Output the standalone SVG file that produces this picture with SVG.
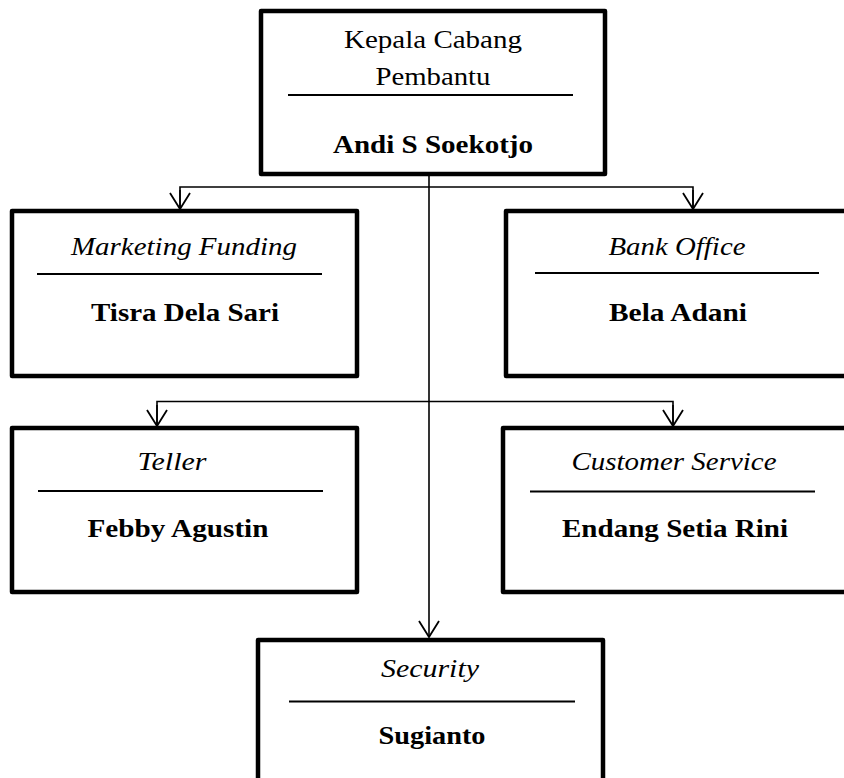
<svg xmlns="http://www.w3.org/2000/svg" width="844" height="778" viewBox="0 0 844 778">
<defs>
<style>
.box{fill:#fff;stroke:#000;stroke-width:4.5;stroke-linejoin:round}
.sep{stroke:#000;stroke-width:1.8}
.con{fill:none;stroke:#000;stroke-width:1.6}
.lbl{font-family:'Liberation Serif','Times New Roman',Times,serif;font-size:25px;fill:#000;text-anchor:middle}
.t{font-style:italic}
.n{font-weight:bold}
</style>
<marker id="arr" markerUnits="userSpaceOnUse" viewBox="-18 -12 20 24" refX="0" refY="0" markerWidth="20" markerHeight="24" orient="auto">
<path d="M-16,-10 L0,0 L-16,10" fill="none" stroke="#000" stroke-width="1.8"/>
</marker>
</defs>
<rect width="844" height="778" fill="#fff"/>
<g id="connectors">
<path class="con" d="M429,174 V637" marker-end="url(#arr)"/>
<path class="con" d="M180,209 V187 H693 V209" />
<path class="con" d="M180,190 V209" marker-end="url(#arr)"/>
<path class="con" d="M693,190 V209" marker-end="url(#arr)"/>
<path class="con" d="M157,426 V401.5 H673 V426"/>
<path class="con" d="M157,405 V426" marker-end="url(#arr)"/>
<path class="con" d="M673,405 V426" marker-end="url(#arr)"/>
</g>
<g id="kepala" class="lbl">
<rect class="box" x="261" y="11" width="344" height="163"/>
<text x="433" y="48" textLength="178" lengthAdjust="spacingAndGlyphs">Kepala Cabang</text>
<text x="433" y="85" textLength="115" lengthAdjust="spacingAndGlyphs">Pembantu</text>
<line class="sep" x1="288" y1="95" x2="573" y2="95"/>
<text class="n" x="433" y="153" textLength="200" lengthAdjust="spacingAndGlyphs">Andi S Soekotjo</text>
</g>
<g id="marketing" class="lbl">
<rect class="box" x="12" y="211" width="345" height="165"/>
<text class="t" x="184" y="255" textLength="226" lengthAdjust="spacingAndGlyphs">Marketing Funding</text>
<line class="sep" x1="37" y1="274" x2="322" y2="274"/>
<text class="n" x="185" y="321" textLength="188" lengthAdjust="spacingAndGlyphs">Tisra Dela Sari</text>
</g>
<g id="bankoffice" class="lbl">
<rect class="box" x="506" y="211" width="346" height="165"/>
<text class="t" x="677" y="255" textLength="137" lengthAdjust="spacingAndGlyphs">Bank Office</text>
<line class="sep" x1="535" y1="273" x2="819" y2="273"/>
<text class="n" x="678" y="321" textLength="138" lengthAdjust="spacingAndGlyphs">Bela Adani</text>
</g>
<g id="teller" class="lbl">
<rect class="box" x="12" y="428" width="345" height="164"/>
<text class="t" x="172" y="470" textLength="69" lengthAdjust="spacingAndGlyphs">Teller</text>
<line class="sep" x1="38" y1="491" x2="323" y2="491"/>
<text class="n" x="178" y="537" textLength="181" lengthAdjust="spacingAndGlyphs">Febby Agustin</text>
</g>
<g id="customerservice" class="lbl">
<rect class="box" x="503" y="428" width="349" height="164"/>
<text class="t" x="674" y="470" textLength="205" lengthAdjust="spacingAndGlyphs">Customer Service</text>
<line class="sep" x1="530" y1="491.5" x2="815" y2="491.5"/>
<text class="n" x="675" y="537" textLength="226" lengthAdjust="spacingAndGlyphs">Endang Setia Rini</text>
</g>
<g id="security" class="lbl">
<rect class="box" x="258" y="640" width="345" height="160"/>
<text class="t" x="430" y="677" textLength="98" lengthAdjust="spacingAndGlyphs">Security</text>
<line class="sep" x1="289" y1="701.5" x2="575" y2="701.5"/>
<text class="n" x="432" y="744" textLength="107" lengthAdjust="spacingAndGlyphs">Sugianto</text>
</g>
</svg>
